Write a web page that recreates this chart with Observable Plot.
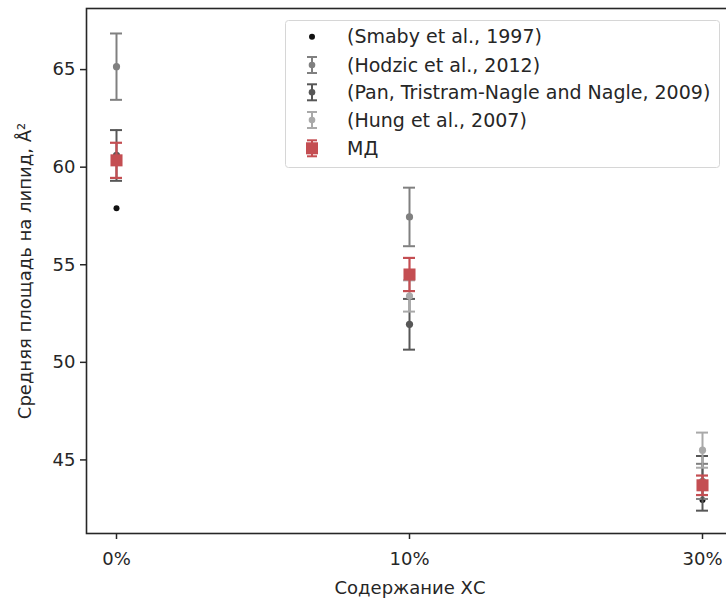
<!DOCTYPE html>
<html>
<head>
<meta charset="utf-8">
<script src="https://cdn.jsdelivr.net/npm/d3@7"></script>
<script src="https://cdn.jsdelivr.net/npm/@observablehq/plot@0.6"></script>
<style>
  html, body { margin: 0; padding: 0; background: white; }
  #wrap { position: relative; width: 726px; height: 599px; overflow: hidden; background: white; }
  #wrap > svg { max-width: none !important; }
  #legend { position: absolute; }
</style>
</head>
<body>
<div id="wrap"></div>
<script>
const categories = ["0%", "10%", "30%"];
const seriesNames = ["(Smaby et al., 1997)", "(Hodzic et al., 2012)", "(Pan, Tristram-Nagle and Nagle, 2009)", "(Hung et al., 2007)", "МД"];
const seriesColors = ["#111111", "#808080", "#575757", "#a9a9a9", "#c44e52"];
const smabyValues = [57.9, null, 42.95];
const hodzicValues = [65.15, 57.45, 43.9];
const hodzicErrors = [1.7, 1.5, 0.9];
const panValues = [60.6, 51.95, 43.8];
const panErrors = [1.3, 1.3, 1.4];
const hungValues = [null, 53.4, 45.5];
const hungErrors = [null, 0.8, 0.9];
const mdValues = [60.35, 54.5, 43.7];
const mdErrors = [0.9, 0.85, 0.5];
const yTicks = [45, 50, 55, 60, 65];
const xLabel = "Содержание ХС";
const yLabel = "Средняя площадь на липид, Å²";

function rows(values, errors, si) {
  return categories.map((c, i) => ({
    cat: c, series: seriesNames[si], v: values[i],
    e: errors ? errors[i] : null
  })).filter(d => d.v != null);
}
const smaby = rows(smabyValues, null, 0);
const hodzic = rows(hodzicValues, hodzicErrors, 1);
const pan = rows(panValues, panErrors, 2);
const hung = rows(hungValues, hungErrors, 3);
const md = rows(mdValues, mdErrors, 4);

function errMarks(data, color, width) {
  return [
    Plot.ruleX(data, {x: "cat", y1: d => d.v - d.e, y2: d => d.v + d.e, stroke: color, strokeWidth: width}),
    Plot.tickY(data, {x: "cat", y: d => d.v - d.e, stroke: color, strokeWidth: width}),
    Plot.tickY(data, {x: "cat", y: d => d.v + d.e, stroke: color, strokeWidth: width})
  ];
}

const textColor = "#262626";
const chart = Plot.plot({
  width: 760, height: 599,
  marginLeft: 86, marginRight: 27, marginTop: 8, marginBottom: 66,
  style: {fontFamily: "DejaVu Sans", fontSize: "18px", color: textColor, background: "white", maxWidth: "none"},
  x: {type: "band", domain: categories, range: [110, 709], paddingInner: 0.959, paddingOuter: 0},
  y: {domain: [41.23, 68.13]},
  marks: [
    Plot.axisX({tickSize: 6, tickPadding: 13, strokeWidth: 1.5, label: xLabel, labelAnchor: "center", labelArrow: "none", labelOffset: 60, fontSize: 18}),
    Plot.axisY({ticks: yTicks, tickSize: 6, tickPadding: 5, strokeWidth: 1.5, label: yLabel, labelAnchor: "center", labelArrow: "none", labelOffset: 68, fontSize: 18}),
    Plot.dot(smaby, {x: "cat", y: "v", r: 3, fill: seriesColors[0]}),
    ...errMarks(hodzic, seriesColors[1], 2),
    Plot.dot(hodzic, {x: "cat", y: "v", r: 3.6, fill: seriesColors[1]}),
    ...errMarks(pan, seriesColors[2], 2),
    Plot.dot(pan, {x: "cat", y: "v", r: 3.6, fill: seriesColors[2]}),
    ...errMarks(hung, seriesColors[3], 2),
    Plot.dot(hung, {x: "cat", y: "v", r: 3.6, fill: seriesColors[3]}),
    ...errMarks(md, seriesColors[4], 2.2),
    Plot.dot(md, {x: "cat", y: "v", r: 6.8, symbol: "square", fill: seriesColors[4]}),
    Plot.frame({stroke: textColor, strokeWidth: 1.6})
  ]
});
chart.style.maxWidth = "none";
const wrap = document.getElementById("wrap");
wrap.appendChild(chart);

// Legend (HTML overlay)
const lg = d3.select(wrap).append("svg").attr("id", "legend")
  .style("left", "285px").style("top", "20px")
  .attr("width", 436).attr("height", 149);
lg.append("rect").attr("x", 0.5).attr("y", 0.5).attr("width", 434).attr("height", 147)
  .attr("rx", 3).attr("fill", "rgba(255,255,255,0.85)").attr("stroke", "#d6d6d6").attr("stroke-width", 1);
const rowY = [16.7, 45, 72.3, 100, 128.3];
seriesNames.forEach((name, i) => {
  const g = lg.append("g").attr("transform", `translate(27,${rowY[i]})`);
  const col = seriesColors[i];
  if (i === 0) {
    g.append("circle").attr("r", 3).attr("fill", col);
  } else {
    const h = 8, w = 5;
    g.append("line").attr("y1", -h).attr("y2", h).attr("stroke", col).attr("stroke-width", 2);
    g.append("line").attr("x1", -w).attr("x2", w).attr("y1", -h).attr("y2", -h).attr("stroke", col).attr("stroke-width", 2);
    g.append("line").attr("x1", -w).attr("x2", w).attr("y1", h).attr("y2", h).attr("stroke", col).attr("stroke-width", 2);
    if (i === 4) g.append("rect").attr("x", -6).attr("y", -6).attr("width", 12).attr("height", 12).attr("fill", col);
    else g.append("circle").attr("r", 3.3).attr("fill", col);
  }
  lg.append("text").attr("x", 62).attr("y", rowY[i]).attr("dy", "0.35em")
    .attr("font-family", "DejaVu Sans").attr("font-size", 19).attr("fill", textColor).text(name);
});
</script>
</body>
</html>
